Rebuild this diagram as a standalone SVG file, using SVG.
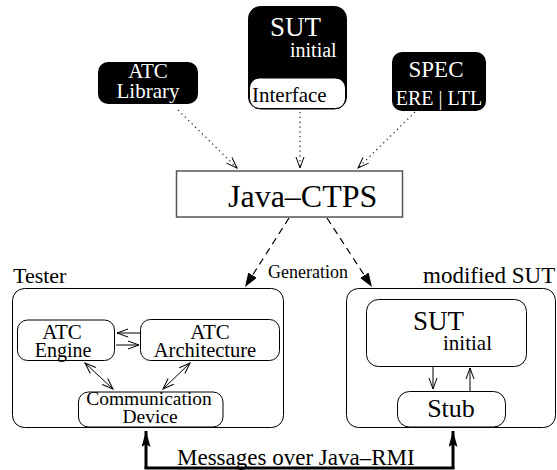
<svg xmlns="http://www.w3.org/2000/svg" width="557" height="470" viewBox="0 0 557 470" font-family="'Liberation Serif', 'DejaVu Serif', serif">
<style>
text{font-family:"Liberation Serif","DejaVu Serif",serif;fill:#000}
.w{fill:#fff}
.box{fill:#fff;stroke:#000;stroke-width:1}
.dot{fill:none;stroke:#333;stroke-width:1.3;stroke-dasharray:1.3 3.5}
.dash{fill:none;stroke:#000;stroke-width:1.2;stroke-dasharray:7 5}
.thin{fill:none;stroke:#000;stroke-width:1}
.thick{fill:none;stroke:#000;stroke-width:3}
</style>
<defs>
<marker id="open" markerUnits="userSpaceOnUse" markerWidth="14" markerHeight="12" refX="12" refY="5" orient="auto-start-reverse">
<path d="M1,1 L12,5 L1,9" fill="none" stroke="#000" stroke-width="1"/>
</marker>
<marker id="fill" markerUnits="userSpaceOnUse" markerWidth="16" markerHeight="12" refX="14" refY="5" orient="auto">
<path d="M0,0 L14,5 L0,10 Z" fill="#000"/>
</marker>
<marker id="thickhead" markerUnits="userSpaceOnUse" markerWidth="18" markerHeight="12" refX="16" refY="4.5" orient="auto">
<path d="M0,0 L16,4.5 L0,9 L3,4.5 Z" fill="#000"/>
</marker>
</defs>

<g id="connectors">
<path class="dot" d="M178,110 L237,168" marker-end="url(#open)"/>
<path class="dot" d="M300,112 L300,168" marker-end="url(#open)"/>
<path class="dot" d="M415,112 L358,168" marker-end="url(#open)"/>
<path class="dash" d="M289,218 L245,287" marker-end="url(#fill)"/>
<path class="dash" d="M327,218 L372,287" marker-end="url(#fill)"/>
<path class="thin" d="M140,333 L117,333" marker-end="url(#open)"/>
<path class="thin" d="M116,345 L139,345" marker-end="url(#open)"/>
<path class="thin" d="M85,363 L113,389" marker-start="url(#open)" marker-end="url(#open)"/>
<path class="thin" d="M190,363 L163,389" marker-start="url(#open)" marker-end="url(#open)"/>
<path class="thin" d="M433,366 L433,389" marker-end="url(#open)"/>
<path class="thin" d="M470,391 L470,368" marker-end="url(#open)"/>
<path class="thick" d="M146,468 L146,431" marker-end="url(#thickhead)"/>
<path class="thick" d="M453,468 L453,431" marker-end="url(#thickhead)"/>
<path class="thick" d="M144.5,468 L454.5,468"/>
<text x="177" y="465" font-size="23">Messages over Java–RMI</text>
<text x="268" y="278" font-size="18">Generation</text>
</g>

<g id="atc-library">
<rect x="98" y="62" width="100" height="42" rx="10" fill="#000"/>
<text class="w" x="148" y="78" font-size="21" text-anchor="middle">ATC</text>
<text class="w" x="148" y="98" font-size="21" text-anchor="middle">Library</text>
</g>

<g id="sut-initial-top">
<rect x="248.5" y="6.5" width="98" height="102.5" rx="12" fill="#000" stroke="#000"/>
<rect x="249.5" y="78" width="96" height="30.5" rx="10" fill="#fff" stroke="#000" stroke-width="1"/>
<text class="w" x="270" y="36" font-size="27">SUT</text>
<text class="w" x="290" y="57" font-size="20">initial</text>
<text x="252" y="102" font-size="21">Interface</text>
</g>

<g id="spec">
<rect x="392" y="52" width="94" height="59" rx="10" fill="#000"/>
<text class="w" x="436" y="77" font-size="23" text-anchor="middle">SPEC</text>
<text class="w" x="439" y="105" font-size="20" text-anchor="middle">ERE | LTL</text>
</g>

<g id="java-ctps">
<rect x="176.5" y="171" width="226" height="46" fill="#fff" stroke="#555" stroke-width="1.5"/>
<text x="228" y="207" font-size="32">Java–CTPS</text>
</g>

<g id="tester">
<rect x="12.5" y="288.5" width="271" height="139" rx="12" fill="none" stroke="#000" stroke-width="1"/>
<text x="13" y="283" font-size="22">Tester</text>
</g>

<g id="atc-engine">
<rect x="17.5" y="320" width="97" height="40.5" rx="10" class="box"/>
<text x="62" y="339" font-size="21" text-anchor="middle">ATC</text>
<text x="63" y="357" font-size="20" text-anchor="middle">Engine</text>
</g>

<g id="atc-architecture">
<rect x="140.5" y="319.5" width="139" height="41" rx="10" class="box"/>
<text x="210" y="339" font-size="21" text-anchor="middle">ATC</text>
<text x="205" y="357" font-size="20.5" text-anchor="middle">Architecture</text>
</g>

<g id="communication-device">
<rect x="78.5" y="392" width="144.5" height="35" rx="10" class="box"/>
<text x="149" y="405" font-size="19.5" text-anchor="middle">Communication</text>
<text x="150" y="423" font-size="19.5" text-anchor="middle">Device</text>
</g>

<g id="modified-sut">
<rect x="346.5" y="288.5" width="209" height="139" rx="12" fill="none" stroke="#000" stroke-width="1"/>
<text x="423" y="283" font-size="23">modified SUT</text>
</g>

<g id="sut-initial-inner">
<rect x="366.5" y="299.5" width="160" height="67" rx="12" class="box"/>
<text x="413" y="330" font-size="27">SUT</text>
<text x="443" y="350" font-size="21">initial</text>
</g>

<g id="stub">
<rect x="397.5" y="391.5" width="108" height="35.5" rx="12" class="box"/>
<text x="451" y="417" font-size="26" text-anchor="middle">Stub</text>
</g>
</svg>
